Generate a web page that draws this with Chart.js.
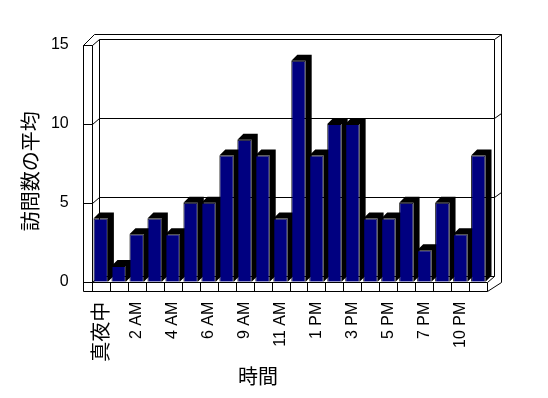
<!DOCTYPE html>
<html>
<head>
<meta charset="utf-8">
<script src="https://cdn.jsdelivr.net/npm/chart.js@4.4.1/dist/chart.umd.min.js"></script>
<style>
html,body{margin:0;padding:0;background:#fff;}
canvas{display:block;}
</style>
</head>
<body>
<canvas id="c" width="548" height="398"></canvas>
<script>
// ---- data ----
const categories = ['真夜中','1 AM','2 AM','3 AM','4 AM','5 AM','6 AM','8 AM','9 AM','10 AM','11 AM','正午',
                    '1 PM','2 PM','3 PM','4 PM','5 PM','6 PM','7 PM','9 PM','10 PM','11 PM'];
const visitAverages = [4,1,3,4,3,5,5,8,9,8,4,14,8,10,10,4,4,5,2,5,3,8];
const shownTickIndexes = [0,2,4,6,8,10,12,14,16,18,20];
const yTickValues = [0,5,10,15];
const xTitle = '時間';
const yTitle = '訪問数の平均';

const CJK = '"Noto Sans CJK JP", sans-serif';
const LATIN = '"Liberation Sans", Arial, sans-serif';

// 3D frame + bar extrusions drawn from the chart's own scales/elements
const frame3d = {
  id: 'frame3d',
  beforeDatasetsDraw(chart) {
    const {ctx, chartArea: a, scales: {x, y}} = chart;
    const L = a.left, R = a.right;
    const yMin = yTickValues[0], yMax = yTickValues[yTickValues.length - 1];
    const B = y.getPixelForValue(yMin), T = y.getPixelForValue(yMax);
    const DX = 7, DY = -6, WALL = 8.7, FLOOR = 9;
    const Wo = L - WALL, bx0 = L + DX, bx1 = R + DX, ox = R + 13.2, oy = T - 10.7;
    const p = v => Math.round(v) + 0.5;
    ctx.save();
    ctx.strokeStyle = '#000';
    ctx.lineWidth = 1;
    const line = (x1, y1, x2, y2) => {
      ctx.beginPath(); ctx.moveTo(p(x1), p(y1)); ctx.lineTo(p(x2), p(y2)); ctx.stroke();
    };
    // left wall
    line(Wo, T, Wo, B + FLOOR);
    line(L, T, L, B);
    line(Wo, T, L, T);
    line(Wo, T, L + 2.3, oy);
    // back wall
    line(bx0, T + DY, bx1, T + DY);
    line(bx0, T + DY, bx0, B + DY);
    line(bx1, T + DY, bx1, B + DY);
    line(bx0, B + DY, bx1, B + DY);
    // outer top / right
    line(L + 2.3, oy, ox, oy);
    line(ox, oy, ox, B);
    line(bx1, T + DY, ox, oy);
    // grid lines and wall ticks
    yTickValues.forEach(v => {
      const yy = y.getPixelForValue(v);
      line(Wo, yy, L, yy);
      line(L, yy, bx0, yy + DY);
      if (v !== yMin && v !== yMax) {
        line(bx0, yy + DY, bx1, yy + DY);
        line(bx1, yy + DY, ox, yy + DY - 5);
      }
    });
    // floor
    line(Wo, B, R, B);
    line(Wo, B + FLOOR, R, B + FLOOR);
    line(R, B + FLOOR, ox, B);
    line(R, B, bx1, B + DY);
    const n = categories.length;
    const step = (x.getPixelForValue(n - 1) - x.getPixelForValue(0)) / (n - 1);
    for (let i = 0; i <= n; i++) {
      const xx = x.getPixelForValue(0) - step / 2 + i * step;
      line(xx, B, xx, B + FLOOR);
    }
    // bar extrusions
    const BDX = 6, BDY = -6;
    ctx.fillStyle = '#000';
    chart.getDatasetMeta(0).data.forEach(bar => {
      const {x: cx, y: top, base, width} = bar.getProps(['x', 'y', 'base', 'width'], true);
      const l = cx - width / 2, r = cx + width / 2;
      ctx.beginPath();
      ctx.moveTo(l, top);
      ctx.lineTo(l + BDX, top + BDY);
      ctx.lineTo(r + BDX, top + BDY);
      ctx.lineTo(r + BDX, base + BDY);
      ctx.lineTo(r, base);
      ctx.lineTo(r, top);
      ctx.closePath();
      ctx.fill();
    });
    ctx.restore();
  }
};

// shift axis titles to where the reference puts them
const titleShift = {
  id: 'titleShift',
  afterLayout(chart) {
    [['x', -31.5, 0], ['y', 0, 8]].forEach(([id, dx, dy]) => {
      const s = chart.scales[id];
      if (!s || s.__shifted) return;
      const orig = s.drawTitle;
      s.drawTitle = function () {
        const c = this.ctx; c.save(); c.translate(dx, dy); orig.call(this); c.restore();
      };
      s.__shifted = true;
    });
  }
};

Chart.defaults.color = '#000';

new Chart(document.getElementById('c'), {
  type: 'bar',
  data: {
    labels: categories,
    datasets: [{
      label: yTitle,
      data: visitAverages,
      backgroundColor: '#000080',
      borderColor: '#000',
      borderWidth: 1,
      barPercentage: 0.8,
      categoryPercentage: 1.0
    }]
  },
  options: {
    responsive: false,
    animation: false,
    devicePixelRatio: 1,
    layout: { padding: { left: 0, top: 45, right: 60.7, bottom: 0 } },
    plugins: { legend: { display: false }, tooltip: { enabled: false } },
    scales: {
      x: {
        grid: { display: false, drawTicks: false },
        border: { display: false },
        ticks: {
          autoSkip: false,
          minRotation: 90,
          maxRotation: 90,
          padding: 20,
          color: '#000',
          font: ctx => ctx.index === 0 ? { family: CJK, size: 20 } : { family: LATIN, size: 16 },
          callback: (v, i) => shownTickIndexes.includes(i) ? categories[i] : ''
        },
        title: {
          display: true,
          text: xTitle,
          color: '#000',
          font: { family: CJK, size: 20 },
          padding: { top: 0, bottom: 10 }
        },
        afterFit: s => { s.height = 116.3; }
      },
      y: {
        min: yTickValues[0],
        max: yTickValues[yTickValues.length - 1],
        grid: { display: false, drawTicks: false },
        border: { display: false },
        afterBuildTicks: s => { s.ticks = yTickValues.map(v => ({ value: v })); },
        ticks: {
          padding: 23,
          color: '#000',
          font: { family: LATIN, size: 16 }
        },
        title: {
          display: true,
          text: yTitle,
          color: '#000',
          font: { family: CJK, size: 20 },
          padding: { top: 18.5, bottom: 0 }
        },
        afterFit: s => { s.width = 91.7; }
      }
    }
  },
  plugins: [frame3d, titleShift]
});
</script>
</body>
</html>
